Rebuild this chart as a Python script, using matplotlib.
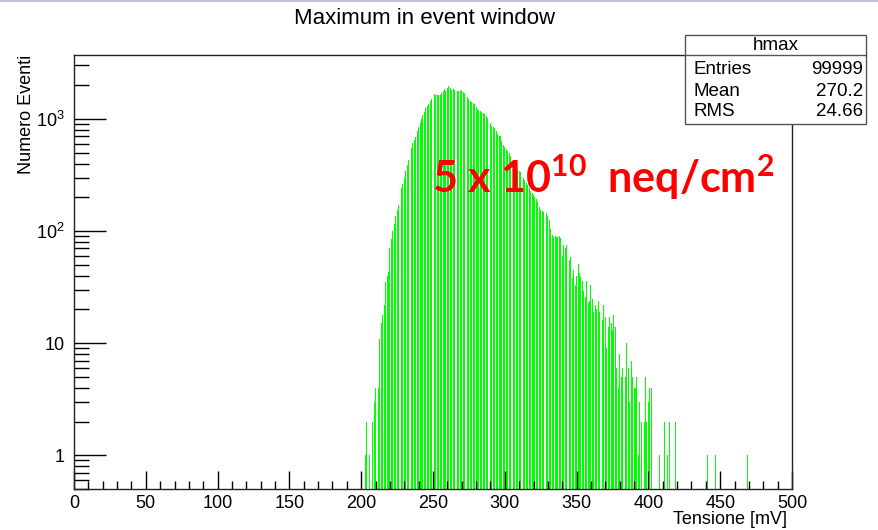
import numpy as np
import matplotlib
matplotlib.use('Agg')
import matplotlib.pyplot as plt
from matplotlib.ticker import FixedLocator, FuncFormatter, MultipleLocator
from matplotlib.lines import Line2D

plt.rcParams['font.family'] = ['Liberation Sans', 'DejaVu Sans']
plt.rcParams['mathtext.fontset'] = 'custom'
plt.rcParams['mathtext.rm'] = 'Liberation Sans'
plt.rcParams['mathtext.bf'] = 'Lato:bold'

# histogram "hmax": bin centre [mV] and counts
tensione = [203, 204, 206, 208, 209, 210, 211, 212, 213, 214, 215, 216, 217, 218, 219,
            220, 221, 222, 223, 224, 225, 226, 227, 228, 229, 230, 231, 232, 233, 234,
            235, 236, 237, 238, 239, 240, 241, 242, 243, 244, 245, 246, 247, 248, 249,
            250, 251, 252, 253, 254, 255, 256, 257, 258, 259, 260, 261, 262, 263, 264,
            265, 266, 267, 268, 269, 270, 271, 272, 273, 274, 275, 276, 277, 278, 279,
            280, 281, 282, 283, 284, 285, 286, 287, 288, 289, 290, 291, 292, 293, 294,
            295, 296, 297, 298, 299, 300, 301, 302, 303, 304, 305, 306, 307, 308, 309,
            310, 311, 312, 313, 314, 315, 316, 317, 318, 319, 320, 321, 322, 323, 324,
            325, 326, 327, 328, 329, 330, 331, 332, 333, 334, 335, 336, 337, 338, 339,
            340, 341, 342, 343, 344, 345, 346, 347, 348, 349, 350, 351, 352, 353, 354,
            355, 356, 357, 358, 359, 360, 361, 362, 363, 364, 365, 366, 367, 368, 369,
            370, 371, 372, 373, 374, 375, 376, 377, 378, 379, 380, 381, 382, 383, 384,
            385, 386, 387, 388, 389, 390, 391, 392, 393, 394, 395, 397, 398, 399, 400,
            401, 402, 406, 408, 411, 413, 415, 419, 441, 447, 469]
conteggi = [1, 2, 1, 2, 3, 4, 5, 4, 11, 15, 18, 22, 35, 40, 43,
            70, 85, 100, 115, 135, 155, 170, 205, 240, 265, 300, 345, 385, 430, 490,
            550, 610, 650, 690, 780, 850, 920, 1000, 1080, 1160, 1250, 1300, 1360, 1450, 1500,
            1600, 1680, 1650, 1640, 1650, 1640, 1700, 1780, 1850, 1790, 1900, 1970, 1870, 1800, 1850,
            1800, 1770, 1760, 1790, 1780, 1800, 1750, 1700, 1640, 1580, 1520, 1460, 1420, 1390, 1360,
            1280, 1210, 1190, 1170, 1150, 1130, 1100, 1060, 1020, 980, 920, 870, 850, 830, 780,
            730, 710, 700, 640, 590, 560, 540, 515, 500, 470, 450, 420, 395, 375, 360,
            345, 335, 320, 300, 285, 268, 255, 240, 228, 220, 210, 200, 195, 180, 165,
            155, 150, 148, 145, 144, 135, 125, 105, 92, 89, 90, 88, 89, 91, 86,
            60, 75, 70, 75, 48, 55, 59, 38, 45, 33, 40, 51, 42, 39, 36,
            29, 26, 36, 23, 24, 33, 25, 19, 22, 20, 24, 19, 12, 16, 22,
            17, 9, 14, 17, 15, 13, 18, 14, 6, 4, 8, 5, 6, 5, 5,
            10, 6, 3, 7, 5, 4, 4, 5, 1, 3, 2, 2, 5, 2, 3,
            4, 4, 1, 1, 2, 1, 2, 2, 1, 1, 1]

stat_names = ['Entries', 'Mean', 'RMS']
stat_values = ['99999', '270.2', '24.66']

fig = plt.figure(figsize=(8.79, 5.30), dpi=100)
ax = fig.add_axes([74 / 879, 41 / 530, 718 / 879, 434 / 530])
ax.set_yscale('log')
ax.bar(tensione, conteggi, width=0.65, color='#00ff00', linewidth=0)

ax.set_xlim(0, 500)
ax.set_ylim(0.5, 3720)

# ROOT-like ticks
ax.xaxis.set_major_locator(MultipleLocator(50))
ax.xaxis.set_minor_locator(MultipleLocator(10))
ax.tick_params(axis='x', which='major', direction='in', length=13, width=1, labelsize=13, pad=4)
ax.tick_params(axis='x', which='minor', direction='in', length=6, width=1)
ax.yaxis.set_major_locator(FixedLocator([1, 10, 100, 1000]))
ax.yaxis.set_minor_locator(FixedLocator([m * 10.0 ** e for e in range(-1, 4) for m in range(2, 10)]))


def ylab(v, pos):
    if v < 50:
        return '%d' % round(v)
    return r'$\mathregular{10^{%d}}$' % round(np.log10(v))


ax.yaxis.set_major_formatter(FuncFormatter(ylab))
ax.yaxis.set_minor_formatter(FuncFormatter(lambda v, p: ''))
ax.tick_params(axis='y', which='major', direction='in', length=23, width=1, labelsize=13, pad=7)
ax.tick_params(axis='y', which='minor', direction='in', length=11, width=1)
for s in ax.spines.values():
    s.set_linewidth(1.0)
    s.set_color('#222222')

fig.text(425 / 879, 1 - 19 / 530, 'Maximum in event window', ha='center', va='center', fontsize=16)
fig.text(27 / 879, 1 - 55 / 530, 'Numero Eventi', rotation=90, ha='center', va='top', fontsize=13)
fig.text(787 / 879, 1 - 520 / 530, 'Tensione [mV]', ha='right', va='center', fontsize=13)

# stats box
bx0, bx1, by0, by1 = 685 / 879, 866 / 879, 1 - 124 / 530, 1 - 35 / 530
fig.patches.append(plt.Rectangle((bx0, by0), bx1 - bx0, by1 - by0, transform=fig.transFigure,
                                 facecolor='white', edgecolor='#555555', linewidth=1, zorder=5))
fig.add_artist(Line2D([bx0, bx1], [1 - 55 / 530] * 2, color='#555555', linewidth=1, zorder=6))
fig.text((bx0 + bx1) / 2, 1 - 45 / 530, 'hmax', ha='center', va='center', fontsize=13.5, zorder=7)
for i, (n, v) in enumerate(zip(stat_names, stat_values)):
    yy = 1 - (70 + 21 * i) / 530
    fig.text(694 / 879, yy, n, ha='left', va='center', fontsize=13.5, zorder=7)
    fig.text(863 / 879, yy, v, ha='right', va='center', fontsize=13.5, zorder=7)

# fluence label
fig.text(432 / 879, 1 - 193 / 530, r'5 x 10$^{\mathbf{10}}$  neq/cm$^{\mathbf{2}}$',
         color='red', fontsize=31, fontweight='bold', family='Lato', ha='left', va='baseline')

# slide border line at the top
fig.add_artist(Line2D([0, 1], [0.998, 0.998], color='#c9bcd9', linewidth=1.5))

fig.savefig('out.png', dpi=100)
